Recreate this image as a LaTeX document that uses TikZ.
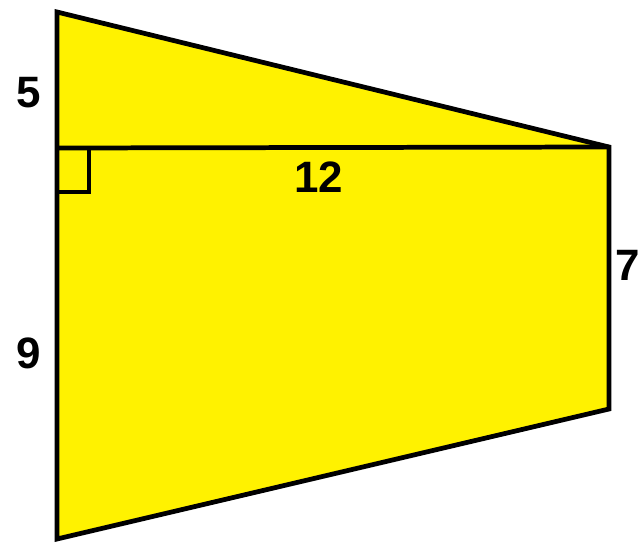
\documentclass[tikz,border=0pt]{standalone}
\usepackage{fontspec}
\setmainfont{Liberation Sans}

\begin{document}
\begin{tikzpicture}[x=0.02cm, y=-0.02cm, edge/.style={line width=2.7pt, line join=miter}, len/.style={font=\fontsize{25}{30}\selectfont\bfseries}]
\useasboundingbox (0,0) rectangle (640,542);
\coordinate (TL) at (57,12); \coordinate (TR) at (609,147); \coordinate (BR) at (609,409); \coordinate (BL) at (57,539); \coordinate (M) at (57,148);
\fill[yellow] (TL)--(TR)--(BR)--(BL)--cycle; \draw[edge] (TL)--(TR)--(BR)--(BL)--cycle; \draw[edge] (M)--(TR);
\draw[line width=2.2pt] (57,192)--(89,192)--(89,148);
\node[len] (a) at (29,93) {5}; \node[len] (b) at (319,177) {12}; \node[len] (c) at (628,265) {7}; \node[len] (d) at (29,353) {9};
\end{tikzpicture}
\end{document}
